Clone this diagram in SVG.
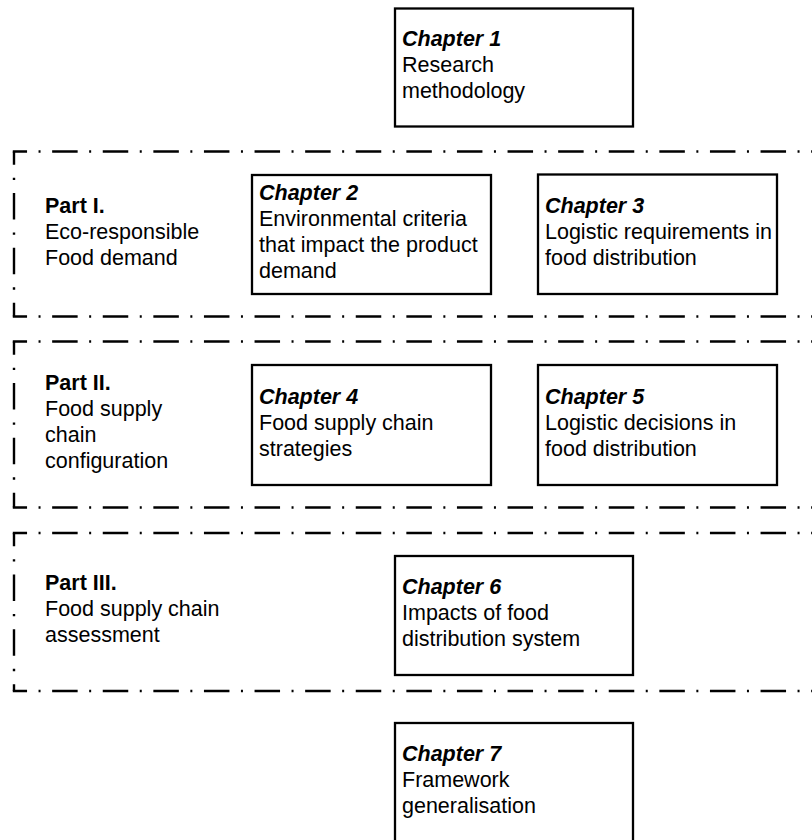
<svg xmlns="http://www.w3.org/2000/svg" width="812" height="840" viewBox="0 0 812 840">
<style>
  .box { fill: #fff; stroke: #000; stroke-width: 2.3; }
  .t { font-family: "Liberation Sans", Arial, sans-serif; font-size: 21.5px; fill: #000; }
  .h { font-weight: bold; font-style: italic; }
  .p { font-weight: bold; }
  .hz { fill: none; stroke: #000; stroke-width: 2.4; stroke-dasharray: 25.5 11.5 2 11.6; stroke-dashoffset: 11.25; }
  .vt { fill: none; stroke: #000; stroke-width: 2.4; stroke-dasharray: 26.5 13 2.3 13; stroke-dashoffset: 13.25; }
</style>
<rect width="812" height="840" fill="#fff"/>

<g id="part1">
  <path class="hz" d="M12.8,151.5 H830"/>
  <path class="vt" d="M14,151.5 V316.5"/>
  <path class="hz" d="M12.8,316.5 H830"/>
  <text class="t" x="45"><tspan class="p" x="45" y="212.5">Part I.</tspan><tspan x="45" y="238.5">Eco-responsible</tspan><tspan x="45" y="264.5">Food demand</tspan></text>
</g>
<g id="part2">
  <path class="hz" d="M12.8,341.5 H830"/>
  <path class="vt" d="M14,341.5 V507.5"/>
  <path class="hz" d="M12.8,507.5 H830"/>
  <text class="t"><tspan class="p" x="45" y="390">Part II.</tspan><tspan x="45" y="416">Food supply</tspan><tspan x="45" y="442">chain</tspan><tspan x="45" y="468">configuration</tspan></text>
</g>
<g id="part3">
  <path class="hz" d="M12.8,533 H830"/>
  <path class="vt" d="M14,533 V691"/>
  <path class="hz" d="M12.8,691 H830"/>
  <text class="t"><tspan class="p" x="45" y="590">Part III.</tspan><tspan x="45" y="616">Food supply chain</tspan><tspan x="45" y="642">assessment</tspan></text>
</g>

<g id="ch1">
  <rect class="box" x="395" y="8.5" width="238" height="118"/>
  <text class="t"><tspan class="h" x="402" y="46">Chapter 1</tspan><tspan x="402" y="72">Research</tspan><tspan x="402" y="98">methodology</tspan></text>
</g>
<g id="ch2">
  <rect class="box" x="252" y="175" width="239" height="119"/>
  <text class="t"><tspan class="h" x="259" y="200">Chapter 2</tspan><tspan x="259" y="226">Environmental criteria</tspan><tspan x="259" y="252">that impact the product</tspan><tspan x="259" y="278">demand</tspan></text>
</g>
<g id="ch3">
  <rect class="box" x="538" y="174.5" width="239" height="119.5"/>
  <text class="t"><tspan class="h" x="545" y="213">Chapter 3</tspan><tspan x="545" y="239">Logistic requirements in</tspan><tspan x="545" y="265">food distribution</tspan></text>
</g>
<g id="ch4">
  <rect class="box" x="252" y="365" width="239" height="120"/>
  <text class="t"><tspan class="h" x="259" y="404">Chapter 4</tspan><tspan x="259" y="430">Food supply chain</tspan><tspan x="259" y="456">strategies</tspan></text>
</g>
<g id="ch5">
  <rect class="box" x="538" y="365" width="239" height="120"/>
  <text class="t"><tspan class="h" x="545" y="404">Chapter 5</tspan><tspan x="545" y="430">Logistic decisions in</tspan><tspan x="545" y="456">food distribution</tspan></text>
</g>
<g id="ch6">
  <rect class="box" x="395" y="556" width="238" height="119"/>
  <text class="t"><tspan class="h" x="402" y="594">Chapter 6</tspan><tspan x="402" y="620">Impacts of food</tspan><tspan x="402" y="646">distribution system</tspan></text>
</g>
<g id="ch7">
  <rect class="box" x="395" y="723" width="238" height="119"/>
  <text class="t"><tspan class="h" x="402" y="761">Chapter 7</tspan><tspan x="402" y="787">Framework</tspan><tspan x="402" y="813">generalisation</tspan></text>
</g>
<g id="connectors"></g>
</svg>
